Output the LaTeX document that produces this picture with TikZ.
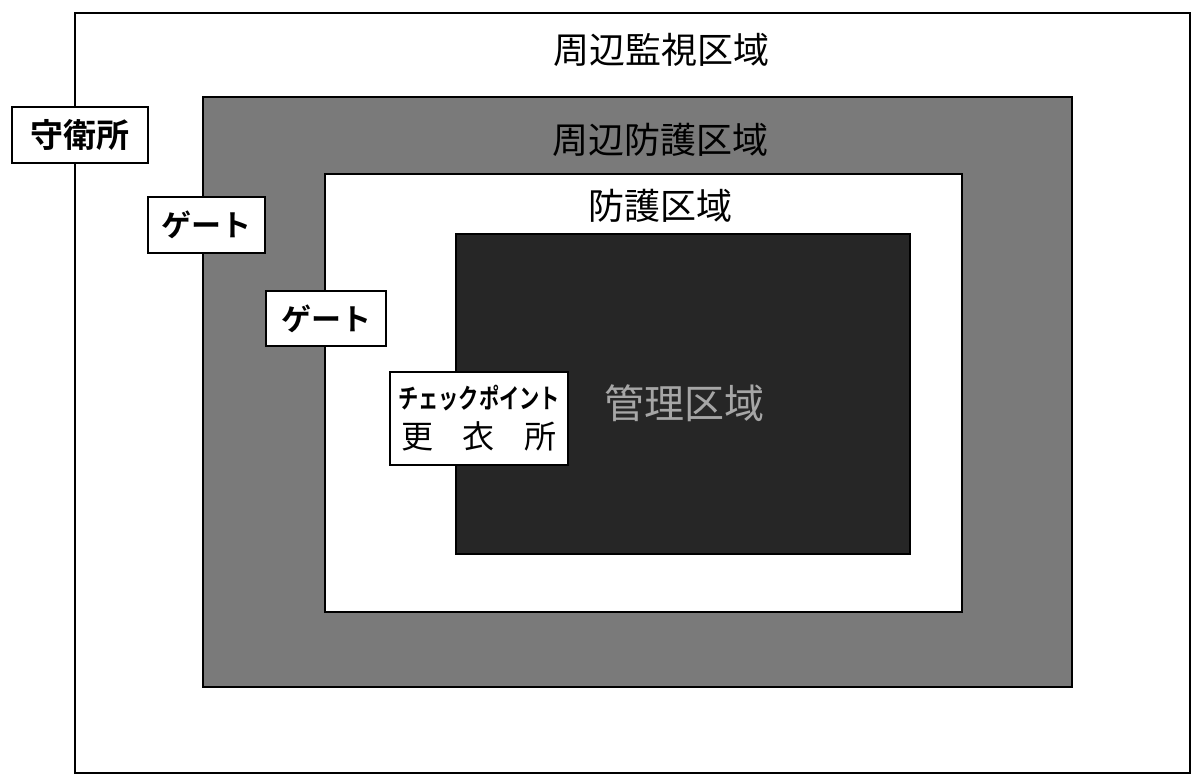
\documentclass[tikz,border=0pt]{standalone}
\usepackage{fontspec}
\usepackage{graphicx}
\newfontfamily\cjk{Noto Sans CJK JP}[BoldFont={Noto Sans CJK JP Bold}]
\begin{document}
\begin{tikzpicture}[x=1pt,y=-1pt,
  zone/.style={draw=black,rectangle,inner sep=0pt,line width=#1},
  zone/.default=2pt,
  lbl/.style={font=\cjk\fontsize{36}{36}\selectfont,inner sep=0pt},
  tagbox/.style={draw=black,fill=white,line width=2pt,rectangle,inner sep=0pt,font=\cjk\bfseries\fontsize{30}{30}\selectfont}
]
\useasboundingbox (0,0) rectangle (1192,781);
\fill[white] (0,0) rectangle (1192,781);
% zones
\node[zone=1.5pt,minimum width=1115pt,minimum height=760pt] (outer) at (632.5,393) {};
\node[zone,fill=black!52,minimum width=869pt,minimum height=590pt] (band) at (637.5,392) {};
\node[zone,fill=white,minimum width=637pt,minimum height=438pt] (inner) at (643.5,393) {};
\node[zone=1.5pt,fill=black!85,minimum width=454pt,minimum height=320pt] (core) at (683,394) {};
% zone labels
\node[lbl] (louter) at (661,50) {周辺監視区域};
\node[lbl,text=black] (lband) at (660,140) {周辺防護区域};
\node[lbl] (linner) at (660,206) {防護区域};
\node[lbl,text=black!35,font=\cjk\fontsize{40}{40}\selectfont] (lcore) at (684,403) {管理区域};
% tags
\node[tagbox,minimum width=136pt,minimum height=56pt,font=\cjk\bfseries\fontsize{33}{33}\selectfont] (guard) at (80,135) {守衛所};
\node[tagbox,minimum width=117pt,minimum height=56pt] (gate1) at (206.5,225) {ゲート};
\node[tagbox,minimum width=120pt,minimum height=55pt] (gate2) at (326,318.5) {ゲート};
\node[tagbox,minimum width=178pt,minimum height=93pt,align=center,font=\cjk\fontsize{32}{32}\selectfont] (check) at (479,418.5)
  {\scalebox{0.75}[1]{\bfseries\fontsize{27}{27}\selectfont チェックポイント}\\[8pt]\makebox[155pt][s]{更\hfill 衣\hfill 所}};
\end{tikzpicture}
\end{document}
